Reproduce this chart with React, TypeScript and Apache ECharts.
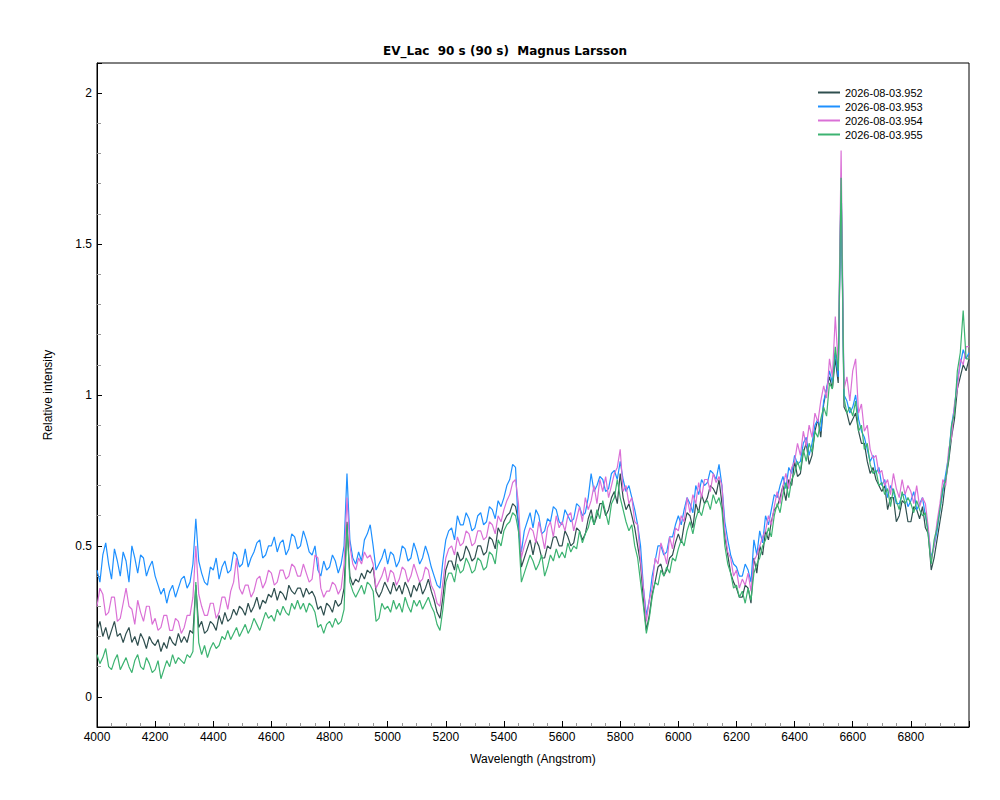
import React, { useEffect, useRef } from "react";
import * as echarts from "echarts";

const TITLE = "EV_Lac  90 s (90 s)  Magnus Larsson";
const SERIES_NAMES = ["2026-08-03.952", "2026-08-03.953", "2026-08-03.954", "2026-08-03.955"];
const SERIES_COLORS = ["#2F4F4F", "#1E90FF", "#DA70D6", "#3CB371"];

// wavelength sampling grid (Angstrom): 10 A steps from 4000 to 7000
const WAVE_START = 4000;
const WAVE_STEP = 10;

// each row = 100 Angstrom (10 samples)
const S952 = [
  0.22, 0.25, 0.20, 0.23, 0.19, 0.22, 0.25, 0.20, 0.21, 0.18,
  0.21, 0.23, 0.18, 0.20, 0.17, 0.21, 0.19, 0.16, 0.20, 0.18,
  0.17, 0.19, 0.15, 0.18, 0.16, 0.20, 0.18, 0.17, 0.21, 0.18,
  0.20, 0.18, 0.22, 0.21, 0.37, 0.23, 0.25, 0.21, 0.22, 0.25,
  0.24, 0.22, 0.27, 0.24, 0.28, 0.25, 0.26, 0.29, 0.27, 0.30,
  0.29, 0.27, 0.31, 0.28, 0.30, 0.33, 0.29, 0.32, 0.31, 0.34,
  0.33, 0.36, 0.32, 0.35, 0.34, 0.32, 0.37, 0.35, 0.34, 0.36,
  0.36, 0.33, 0.36, 0.34, 0.35, 0.33, 0.29, 0.30, 0.27, 0.31,
  0.30, 0.28, 0.32, 0.30, 0.31, 0.36, 0.58, 0.40, 0.37, 0.39,
  0.38, 0.41, 0.39, 0.42, 0.41, 0.43, 0.35, 0.33, 0.35, 0.38,
  0.36, 0.34, 0.38, 0.35, 0.37, 0.34, 0.38, 0.36, 0.33, 0.37,
  0.35, 0.38, 0.34, 0.36, 0.39, 0.35, 0.32, 0.28, 0.26, 0.33,
  0.42, 0.45, 0.45, 0.42, 0.48, 0.45, 0.46, 0.50, 0.48, 0.45,
  0.46, 0.50, 0.50, 0.47, 0.48, 0.53, 0.52, 0.49, 0.56, 0.54,
  0.58, 0.60, 0.61, 0.64, 0.63, 0.58, 0.43, 0.46, 0.49, 0.52,
  0.47, 0.52, 0.50, 0.46, 0.46, 0.50, 0.49, 0.53, 0.53, 0.50,
  0.50, 0.55, 0.53, 0.50, 0.51, 0.56, 0.55, 0.52, 0.54, 0.59,
  0.62, 0.57, 0.60, 0.64, 0.64, 0.60, 0.62, 0.66, 0.68, 0.64,
  0.74, 0.66, 0.62, 0.64, 0.60, 0.56, 0.50, 0.44, 0.32, 0.22,
  0.27, 0.34, 0.38, 0.43, 0.44, 0.40, 0.42, 0.46, 0.47, 0.51,
  0.54, 0.51, 0.57, 0.61, 0.60, 0.56, 0.64, 0.61, 0.67, 0.64,
  0.66, 0.70, 0.69, 0.67, 0.72, 0.64, 0.53, 0.47, 0.41, 0.38,
  0.36, 0.33, 0.33, 0.37, 0.36, 0.31, 0.46, 0.41, 0.50, 0.47,
  0.55, 0.52, 0.58, 0.62, 0.63, 0.66, 0.70, 0.65, 0.72, 0.70,
  0.78, 0.73, 0.74, 0.81, 0.84, 0.77, 0.80, 0.88, 0.92, 0.86,
  0.97, 1.02, 1.06, 1.02, 1.12, 1.04, 1.70, 0.96, 0.94, 0.90,
  0.92, 0.94, 0.88, 0.84, 0.84, 0.78, 0.74, 0.76, 0.72, 0.70,
  0.68, 0.70, 0.62, 0.66, 0.66, 0.58, 0.60, 0.65, 0.64, 0.58,
  0.58, 0.63, 0.62, 0.59, 0.63, 0.56, 0.54, 0.42, 0.46, 0.52,
  0.58, 0.64, 0.72, 0.78, 0.86, 0.92, 1.02, 1.06, 1.10, 1.08,
  1.12,
];

const S953 = [
  0.42, 0.38, 0.47, 0.51, 0.44, 0.39, 0.49, 0.45, 0.40, 0.48,
  0.45, 0.38, 0.50, 0.46, 0.41, 0.47, 0.46, 0.40, 0.43, 0.45,
  0.40, 0.37, 0.34, 0.36, 0.31, 0.35, 0.37, 0.33, 0.36, 0.39,
  0.40, 0.36, 0.38, 0.44, 0.59, 0.45, 0.41, 0.38, 0.37, 0.43,
  0.42, 0.46, 0.39, 0.43, 0.45, 0.41, 0.42, 0.48, 0.47, 0.43,
  0.44, 0.49, 0.43, 0.46, 0.48, 0.51, 0.52, 0.46, 0.47, 0.50,
  0.50, 0.53, 0.48, 0.51, 0.52, 0.47, 0.49, 0.54, 0.53, 0.49,
  0.50, 0.55, 0.52, 0.48, 0.47, 0.50, 0.42, 0.40, 0.45, 0.42,
  0.43, 0.47, 0.45, 0.41, 0.44, 0.50, 0.74, 0.52, 0.46, 0.44,
  0.48, 0.45, 0.52, 0.54, 0.57, 0.50, 0.42, 0.44, 0.46, 0.49,
  0.44, 0.48, 0.47, 0.43, 0.45, 0.50, 0.49, 0.45, 0.46, 0.51,
  0.48, 0.44, 0.46, 0.50, 0.47, 0.43, 0.40, 0.37, 0.36, 0.45,
  0.52, 0.55, 0.56, 0.52, 0.60, 0.57, 0.57, 0.61, 0.59, 0.55,
  0.56, 0.60, 0.61, 0.57, 0.58, 0.63, 0.62, 0.59, 0.65, 0.63,
  0.66, 0.70, 0.72, 0.77, 0.76, 0.55, 0.48, 0.55, 0.58, 0.61,
  0.56, 0.62, 0.60, 0.54, 0.55, 0.59, 0.58, 0.63, 0.62, 0.58,
  0.57, 0.62, 0.60, 0.58, 0.59, 0.64, 0.63, 0.60, 0.61, 0.66,
  0.74, 0.68, 0.70, 0.73, 0.72, 0.68, 0.69, 0.74, 0.75, 0.72,
  0.78, 0.72, 0.68, 0.70, 0.66, 0.62, 0.57, 0.50, 0.36, 0.27,
  0.32, 0.40, 0.45, 0.50, 0.50, 0.47, 0.48, 0.53, 0.53, 0.57,
  0.60, 0.57, 0.62, 0.66, 0.64, 0.61, 0.70, 0.67, 0.72, 0.70,
  0.71, 0.75, 0.74, 0.72, 0.77, 0.70, 0.58, 0.52, 0.47, 0.44,
  0.43, 0.40, 0.40, 0.44, 0.42, 0.38, 0.52, 0.47, 0.55, 0.51,
  0.60, 0.57, 0.62, 0.67, 0.66, 0.70, 0.73, 0.69, 0.76, 0.74,
  0.80, 0.77, 0.78, 0.84, 0.86, 0.80, 0.84, 0.90, 0.92, 0.88,
  0.98, 1.02, 1.08, 1.04, 1.14, 1.06, 1.72, 1.00, 0.98, 0.94,
  0.96, 1.00, 0.92, 0.88, 0.86, 0.82, 0.78, 0.80, 0.74, 0.76,
  0.70, 0.72, 0.66, 0.70, 0.68, 0.64, 0.64, 0.67, 0.67, 0.63,
  0.65, 0.68, 0.62, 0.64, 0.66, 0.60, 0.55, 0.46, 0.50, 0.55,
  0.62, 0.68, 0.74, 0.80, 0.90, 0.96, 1.05, 1.10, 1.15, 1.12,
  1.14,
];

const S954 = [
  0.30, 0.36, 0.34, 0.27, 0.28, 0.33, 0.33, 0.25, 0.26, 0.31,
  0.36, 0.30, 0.29, 0.24, 0.32, 0.28, 0.25, 0.30, 0.30, 0.24,
  0.26, 0.22, 0.23, 0.27, 0.27, 0.22, 0.22, 0.26, 0.25, 0.21,
  0.23, 0.27, 0.27, 0.33, 0.50, 0.34, 0.30, 0.27, 0.27, 0.31,
  0.31, 0.26, 0.28, 0.33, 0.33, 0.29, 0.35, 0.38, 0.46, 0.36,
  0.34, 0.37, 0.37, 0.33, 0.35, 0.39, 0.40, 0.36, 0.38, 0.42,
  0.41, 0.37, 0.38, 0.42, 0.42, 0.39, 0.40, 0.44, 0.43, 0.40,
  0.40, 0.44, 0.41, 0.38, 0.39, 0.47, 0.46, 0.36, 0.33, 0.35,
  0.35, 0.38, 0.37, 0.34, 0.36, 0.44, 0.66, 0.50, 0.44, 0.42,
  0.46, 0.44, 0.48, 0.46, 0.47, 0.44, 0.36, 0.38, 0.40, 0.43,
  0.38, 0.42, 0.41, 0.37, 0.39, 0.43, 0.42, 0.38, 0.40, 0.44,
  0.41, 0.38, 0.39, 0.43, 0.42, 0.37, 0.35, 0.31, 0.30, 0.38,
  0.46, 0.49, 0.50, 0.47, 0.53, 0.50, 0.51, 0.55, 0.54, 0.50,
  0.51, 0.55, 0.55, 0.52, 0.53, 0.58, 0.57, 0.54, 0.60, 0.58,
  0.62, 0.65, 0.67, 0.71, 0.72, 0.64, 0.46, 0.50, 0.53, 0.56,
  0.55, 0.51, 0.58, 0.54, 0.49, 0.56, 0.58, 0.53, 0.60, 0.56,
  0.58, 0.55, 0.60, 0.61, 0.55, 0.59, 0.63, 0.58, 0.66, 0.62,
  0.65, 0.70, 0.64, 0.72, 0.68, 0.73, 0.66, 0.70, 0.74, 0.76,
  0.82, 0.68, 0.70, 0.64, 0.66, 0.58, 0.57, 0.45, 0.36, 0.25,
  0.32, 0.36, 0.46, 0.44, 0.51, 0.48, 0.44, 0.53, 0.49, 0.56,
  0.55, 0.60, 0.58, 0.66, 0.61, 0.67, 0.64, 0.71, 0.66, 0.72,
  0.72, 0.68, 0.74, 0.71, 0.73, 0.70, 0.55, 0.48, 0.46, 0.40,
  0.42, 0.36, 0.39, 0.37, 0.41, 0.35, 0.45, 0.47, 0.50, 0.53,
  0.55, 0.60, 0.57, 0.63, 0.68, 0.64, 0.70, 0.74, 0.69, 0.76,
  0.78, 0.84, 0.80, 0.88, 0.83, 0.90, 0.86, 0.94, 0.91, 0.98,
  1.03, 0.99, 1.12, 1.06, 1.26, 1.10, 1.81, 1.02, 1.06, 0.98,
  1.08, 1.12, 0.94, 0.97, 0.88, 0.90, 0.82, 0.79, 0.80, 0.74,
  0.75, 0.70, 0.72, 0.67, 0.74, 0.69, 0.66, 0.72, 0.67, 0.70,
  0.68, 0.64, 0.70, 0.63, 0.66, 0.64, 0.56, 0.45, 0.50, 0.58,
  0.64, 0.72, 0.70, 0.82, 0.86, 0.97, 1.02, 1.12, 1.10, 1.16,
  1.16,
];

const S955 = [
  0.14, 0.11, 0.13, 0.16, 0.10, 0.09, 0.12, 0.14, 0.09, 0.11,
  0.13, 0.10, 0.08, 0.12, 0.14, 0.10, 0.09, 0.13, 0.11, 0.08,
  0.09, 0.12, 0.06, 0.09, 0.12, 0.10, 0.14, 0.11, 0.13, 0.12,
  0.11, 0.14, 0.13, 0.15, 0.38, 0.18, 0.14, 0.17, 0.13, 0.16,
  0.18, 0.16, 0.17, 0.20, 0.19, 0.22, 0.19, 0.21, 0.23, 0.20,
  0.22, 0.24, 0.21, 0.23, 0.26, 0.24, 0.22, 0.25, 0.28, 0.26,
  0.27, 0.25, 0.29, 0.27, 0.30, 0.28, 0.27, 0.31, 0.29, 0.32,
  0.29, 0.31, 0.28, 0.31, 0.30, 0.28, 0.23, 0.24, 0.21, 0.24,
  0.25, 0.23, 0.26, 0.24, 0.25, 0.29, 0.57, 0.38, 0.35, 0.33,
  0.35, 0.37, 0.34, 0.38, 0.37, 0.35, 0.25, 0.26, 0.31, 0.29,
  0.30, 0.28, 0.32, 0.29, 0.31, 0.28, 0.33, 0.30, 0.28, 0.32,
  0.30, 0.32, 0.29, 0.31, 0.33, 0.30, 0.28, 0.24, 0.22, 0.29,
  0.38, 0.41, 0.41, 0.38, 0.44, 0.41, 0.42, 0.46, 0.44, 0.41,
  0.42, 0.46, 0.45, 0.42, 0.43, 0.48, 0.47, 0.44, 0.52, 0.50,
  0.55, 0.57, 0.58, 0.61, 0.60, 0.55, 0.38, 0.41, 0.44, 0.47,
  0.45, 0.42, 0.44, 0.47, 0.40, 0.43, 0.47, 0.45, 0.49, 0.46,
  0.48, 0.46, 0.51, 0.48, 0.50, 0.49, 0.55, 0.51, 0.54, 0.56,
  0.60, 0.57, 0.62, 0.59, 0.65, 0.61, 0.57, 0.64, 0.66, 0.72,
  0.66, 0.62, 0.58, 0.55, 0.57, 0.50, 0.46, 0.38, 0.30, 0.21,
  0.26, 0.33, 0.38, 0.37, 0.42, 0.40, 0.43, 0.41, 0.46, 0.45,
  0.49, 0.52, 0.50, 0.55, 0.58, 0.54, 0.59, 0.62, 0.60, 0.64,
  0.65, 0.62, 0.67, 0.64, 0.66, 0.62, 0.50, 0.44, 0.41, 0.36,
  0.37, 0.33, 0.35, 0.31, 0.36, 0.32, 0.41, 0.44, 0.46, 0.50,
  0.52, 0.56, 0.53, 0.60, 0.64, 0.61, 0.67, 0.71, 0.66, 0.72,
  0.74, 0.78, 0.75, 0.82, 0.78, 0.84, 0.81, 0.88, 0.86, 0.92,
  0.96, 0.93, 1.04, 1.02, 1.16, 1.08, 1.72, 0.99, 0.94, 0.96,
  0.93, 0.98, 0.88, 0.90, 0.82, 0.84, 0.77, 0.74, 0.75, 0.70,
  0.71, 0.67, 0.69, 0.63, 0.69, 0.65, 0.62, 0.68, 0.64, 0.66,
  0.64, 0.61, 0.65, 0.62, 0.60, 0.61, 0.53, 0.44, 0.52, 0.56,
  0.62, 0.69, 0.72, 0.79, 0.90, 0.94, 1.08, 1.14, 1.28, 1.12,
  1.12,
];

const SERIES_VALUES = [S952, S953, S954, S955];

const X_MIN = 4000;
const X_MAX = 7000;
const Y_MIN = -0.1;
const Y_MAX = 2.1;

const FONT = "'Liberation Sans', Arial, sans-serif";

export default function App() {
  const ref = useRef<HTMLDivElement | null>(null);

  useEffect(() => {
    document.body.style.margin = "0";
    if (!ref.current) return;
    const chart = echarts.init(ref.current, undefined, { renderer: "svg" });

    const series = SERIES_VALUES.map((vals, si) => ({
      name: SERIES_NAMES[si],
      type: "line",
      showSymbol: false,
      symbol: "none",
      data: vals.map((v, i) => [WAVE_START + WAVE_STEP * i, v]),
      lineStyle: { width: 1.2, color: SERIES_COLORS[si] },
      itemStyle: { color: SERIES_COLORS[si] },
      emphasis: { disabled: true },
      z: 2 + si,
    }));

    chart.setOption({
      animation: false,
      backgroundColor: "#ffffff",
      title: {
        text: TITLE,
        left: 500,
        textAlign: "center",
        top: 40,
        textStyle: {
          fontFamily: "'DejaVu Sans', sans-serif",
          fontWeight: "bold",
          fontSize: 12,
          color: "#000",
        },
      },
      legend: {
        orient: "vertical",
        left: 813,
        top: 82,
        icon: "rect",
        itemWidth: 22,
        itemHeight: 2,
        itemGap: 3,
        textStyle: {
          fontFamily: FONT,
          fontSize: 11,
          color: "#000",
        },
        data: SERIES_NAMES,
      },
      grid: {
        left: 97,
        right: 31,
        top: 63,
        bottom: 73,
        show: true,
        borderColor: "#000",
        borderWidth: 1,
        backgroundColor: "transparent",
      },
      xAxis: {
        type: "value",
        min: X_MIN,
        max: X_MAX,
        interval: 200,
        name: "Wavelength (Angstrom)",
        nameLocation: "middle",
        nameGap: 26,
        nameTextStyle: { fontFamily: FONT, fontSize: 12, color: "#000" },
        axisLine: { show: true, onZero: false, lineStyle: { color: "#000", width: 1 } },
        axisTick: { show: true, inside: true, length: 6, lineStyle: { color: "#000" } },
        minorTick: { show: true, splitNumber: 4, length: 4, lineStyle: { color: "#999" } },
        axisLabel: {
          fontFamily: FONT,
          fontSize: 12,
          color: "#000",
          margin: 4,
          formatter: (v: number) => (v >= X_MAX ? "" : String(v)),
        },
        splitLine: { show: false },
      },
      yAxis: {
        type: "value",
        min: Y_MIN,
        max: Y_MAX,
        name: "Relative intensity",
        nameLocation: "middle",
        nameRotate: 90,
        nameGap: 43,
        nameTextStyle: { fontFamily: FONT, fontSize: 12, color: "#000" },
        axisLine: { show: true, onZero: false, lineStyle: { color: "#000", width: 1 } },
        axisTick: { show: true, inside: true, length: 5, lineStyle: { color: "#000" } },
        minorTick: { show: true, splitNumber: 5, length: 4, lineStyle: { color: "#999" } },
        axisLabel: {
          fontFamily: FONT,
          fontSize: 12,
          color: "#000",
          margin: 5,
          formatter: (v: number) => {
            const r = Math.round(v * 10) / 10;
            if (Math.abs(r * 2 - Math.round(r * 2)) > 1e-6) return "";
            return String(r);
          },
        },
        splitLine: { show: false },
      },
      series,
    });

    return () => {
      chart.dispose();
    };
  }, []);

  return <div ref={ref} style={{ width: 1000, height: 800 }} />;
}
